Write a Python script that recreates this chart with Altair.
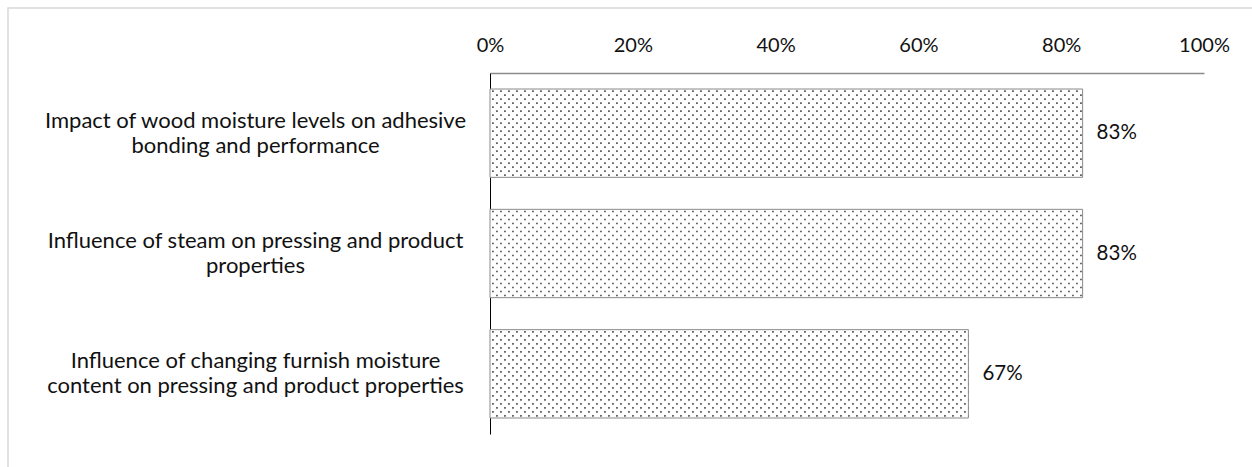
import altair as alt
import pandas as pd

categories = [
    "Impact of wood moisture levels on adhesive\nbonding and performance",
    "Influence of steam on pressing and product\nproperties",
    "Influence of changing furnish moisture\ncontent on pressing and product properties",
]
values = [0.83, 0.83, 0.67]
tick_values = [0, 0.2, 0.4, 0.6, 0.8, 1.0]

df = pd.DataFrame({"category": categories, "value": values})

FONT = "Lato"
TXT = "#111111"
W, H = 714, 361

y_enc = alt.Y(
    "category:N",
    sort=None,
    scale=alt.Scale(paddingInner=0.266, paddingOuter=0.133),
    axis=alt.Axis(
        title=None,
        labelExpr="split(datum.value, '\\n')",
        labelAlign="center",
        labelBaseline="middle",
        labelPadding=235,
        labelOffset=-12.5,
        labelLimit=0,
        labelLineHeight=25,
        labelFontSize=22,
        labelFont=FONT,
        labelColor=TXT,
        ticks=False,
        domainColor="#000000",
        domainWidth=1,
    ),
)
x_scale = alt.Scale(domain=[0, 1], nice=False)

base = alt.Chart(df)

frame = base.transform_filter("datum.value == 0.67").mark_rect(
    fill="transparent", stroke="#d9d9d9", strokeWidth=1.5
).encode(
    x=alt.value(-482), x2=alt.value(800), y=alt.value(-65), y2=alt.value(420)
)

bars = base.mark_bar(fill="white", stroke="#8a8a8a", strokeWidth=1).encode(
    y=y_enc,
    x=alt.X(
        "value:Q",
        scale=x_scale,
        axis=alt.Axis(
            orient="top",
            title=None,
            values=tick_values,
            format=".0%",
            grid=False,
            ticks=False,
            labelPadding=22,
            labelBaseline="alphabetic",
            labelFontSize=20,
            labelFont=FONT,
            labelColor=TXT,
            domainColor="#8c8c8c",
            domainWidth=1.3,
            labelFlush=False,
        ),
    ),
)

dots = []
for i, off in enumerate(range(-42, 43, 4)):
    dots.append(
        base.transform_calculate(start="0.003").mark_rule(
            yOffset=off,
            strokeDash=[1.6, 6.4],
            strokeDashOffset=(0 if i % 2 == 0 else 4),
            strokeWidth=1.6,
            color="#4a4a4a",
        ).encode(
            y=alt.Y("category:N", sort=None),
            x=alt.X("start:Q"),
            x2=alt.X2("value"),
        )
    )

labels = base.mark_text(
    align="left", baseline="middle", dx=14, fontSize=20.5, font=FONT, color=TXT
).encode(
    y=alt.Y("category:N", sort=None),
    x=alt.X("value:Q"),
    text=alt.Text("value:Q", format=".0%"),
)

chart = (
    alt.layer(frame, bars, *dots, labels)
    .properties(
        width=W,
        height=H,
        autosize=alt.AutoSizeParams(type="none"),
        padding={"left": 490, "top": 73, "right": 48, "bottom": 33},
        background="white",
    )
    .configure_view(stroke=None)
)

chart.save("out.html", embed_options={"renderer": "svg", "actions": False})
